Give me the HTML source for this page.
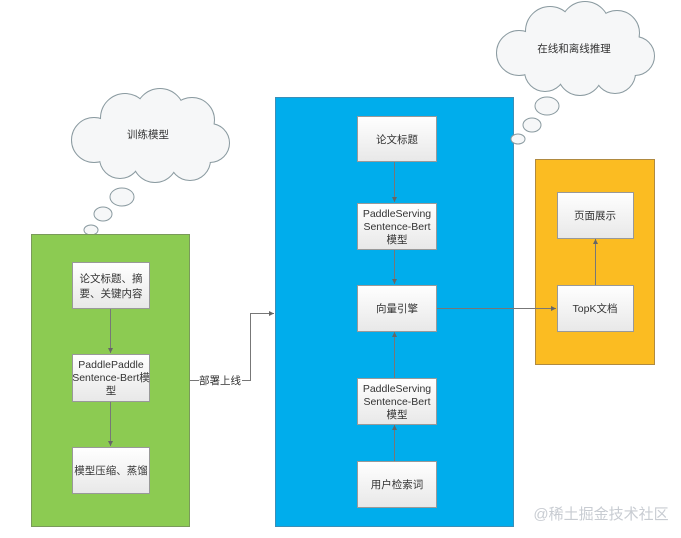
<!DOCTYPE html>
<html><head><meta charset="utf-8"><style>
html,body{margin:0;padding:0;background:#fff;width:681px;height:538px;overflow:hidden}
svg{display:block}
text{font-family:"Liberation Sans","Noto Sans CJK SC",sans-serif;font-size:10.5px;fill:#333}
</style></head><body>
<svg width="681" height="538" viewBox="0 0 681 538">
<defs>
<linearGradient id="g" x1="0" y1="0" x2="0" y2="1"><stop offset="0" stop-color="#ffffff"/><stop offset="1" stop-color="#e8e8e8"/></linearGradient>
<g id="cloud">
 <g fill="none" stroke="#8a9aa0" stroke-width="2">
  <circle cx="24" cy="52" r="22"/><circle cx="55" cy="30" r="24"/><circle cx="90" cy="25" r="24"/><circle cx="122" cy="32" r="22"/><circle cx="140" cy="55" r="19"/><circle cx="120" cy="72" r="20"/><circle cx="85" cy="72" r="22"/><circle cx="50" cy="70" r="20"/>
 </g>
 <g fill="#f6f7f8">
  <circle cx="24" cy="52" r="22"/><circle cx="55" cy="30" r="24"/><circle cx="90" cy="25" r="24"/><circle cx="122" cy="32" r="22"/><circle cx="140" cy="55" r="19"/><circle cx="120" cy="72" r="20"/><circle cx="85" cy="72" r="22"/><circle cx="50" cy="70" r="20"/><circle cx="70" cy="50" r="25"/><circle cx="105" cy="50" r="25"/>
 </g>
</g>
<marker id="a" markerWidth="6" markerHeight="6" refX="5" refY="3" orient="auto"><path d="M0,0.5 L5,3 L0,5.5z" fill="#666"/></marker>
</defs>

<!-- cloud 1 -->
<g transform="translate(70,88)"><use href="#cloud"/></g>
<text x="148" y="138" text-anchor="middle">训练模型</text>
<g fill="#f6f7f8" stroke="#8a9aa0" stroke-width="1">
<ellipse cx="122" cy="197" rx="12" ry="9"/><ellipse cx="103" cy="214" rx="9" ry="7"/><ellipse cx="91" cy="230" rx="7" ry="5"/>
</g>

<!-- cloud 2 -->
<g transform="translate(495,1)"><use href="#cloud"/></g>
<text x="574" y="52" text-anchor="middle">在线和离线推理</text>

<!-- green -->
<rect x="31.5" y="234.5" width="158" height="292" fill="#8ccb52" stroke="#7a9a5a"/>
<!-- blue -->
<rect x="275.5" y="97.5" width="238" height="429" fill="#00adec" stroke="#3a8fb8"/>
<!-- orange -->
<rect x="535.5" y="159.5" width="119" height="205" fill="#fbbc22" stroke="#b08a40"/>

<g fill="#f6f7f8" stroke="#8a9aa0" stroke-width="1">
<ellipse cx="547" cy="106" rx="12" ry="9"/><ellipse cx="532" cy="125" rx="9" ry="7"/><ellipse cx="518" cy="139" rx="7" ry="5"/>
</g>

<g stroke="#777" stroke-width="1" fill="none">
<line x1="110.5" y1="308" x2="110.5" y2="353" marker-end="url(#a)"/>
<line x1="110.5" y1="401" x2="110.5" y2="446" marker-end="url(#a)"/>
<polyline points="190,380.5 250.5,380.5 250.5,313.5 274,313.5" marker-end="url(#a)"/>
<line x1="394.5" y1="161" x2="394.5" y2="202" marker-end="url(#a)"/>
<line x1="394.5" y1="249" x2="394.5" y2="284" marker-end="url(#a)"/>
<line x1="394.5" y1="461" x2="394.5" y2="425" marker-end="url(#a)"/>
<line x1="394.5" y1="378" x2="394.5" y2="332" marker-end="url(#a)"/>
<line x1="437" y1="308.5" x2="556" y2="308.5" marker-end="url(#a)"/>
<line x1="595.5" y1="285" x2="595.5" y2="239" marker-end="url(#a)"/>
</g>
<rect x="199" y="374" width="43" height="13" fill="#fff"/>
<text x="220" y="384" text-anchor="middle">部署上线</text>

<g fill="url(#g)" stroke="#999">
<rect x="72.5" y="262.5" width="77" height="46"/>
<rect x="72.5" y="354.5" width="77" height="47"/>
<rect x="72.5" y="447.5" width="77" height="46"/>
<rect x="357.5" y="116.5" width="79" height="45"/>
<rect x="357.5" y="203.5" width="79" height="46"/>
<rect x="357.5" y="285.5" width="79" height="46"/>
<rect x="357.5" y="378.5" width="79" height="46"/>
<rect x="357.5" y="461.5" width="79" height="46"/>
<rect x="557.5" y="192.5" width="76" height="46"/>
<rect x="557.5" y="285.5" width="76" height="46"/>
</g>
<g text-anchor="middle">
<text x="111" y="282">论文标题、摘</text><text x="111" y="297">要、关键内容</text>
<text x="111" y="368">PaddlePaddle</text><text x="111" y="381">Sentence-Bert模</text><text x="111" y="394">型</text>
<text x="111" y="474">模型压缩、蒸馏</text>
<text x="397" y="143">论文标题</text>
<text x="397" y="217">PaddleServing</text><text x="397" y="230">Sentence-Bert</text><text x="397" y="243">模型</text>
<text x="397" y="312">向量引擎</text>
<text x="397" y="392">PaddleServing</text><text x="397" y="405">Sentence-Bert</text><text x="397" y="418">模型</text>
<text x="397" y="488">用户检索词</text>
<text x="595" y="219">页面展示</text>
<text x="595" y="312">TopK文档</text>
</g>
<text x="601" y="519" text-anchor="middle" style="font-size:15px;fill:#c8ccd2">@稀土掘金技术社区</text>
</svg>
</body></html>
